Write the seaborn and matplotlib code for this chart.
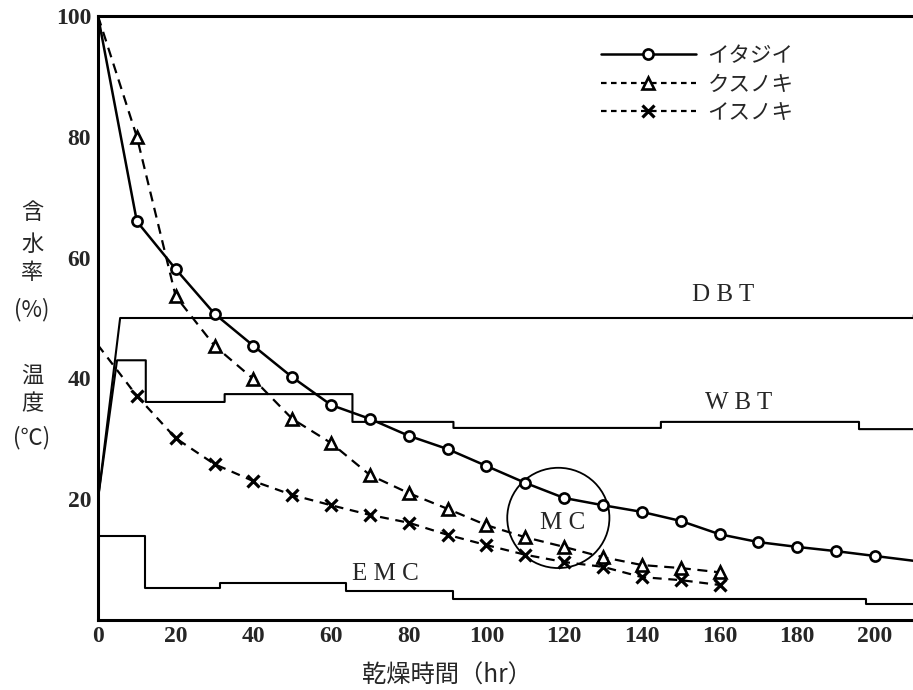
import numpy as np
import pandas as pd
import matplotlib
matplotlib.use("Agg")
import matplotlib.pyplot as plt
import seaborn as sns
from matplotlib.lines import Line2D
from matplotlib.patches import Ellipse

# ---------------- data ----------------
itajii_x = [0, 10, 20, 30, 40, 50, 60, 70, 80, 90, 100, 110, 120, 130, 140,
            150, 160, 170, 180, 190, 200, 210]
itajii_mc = [100, 66.0, 58.1, 50.7, 45.4, 40.2, 35.6, 33.3, 30.5, 28.3, 25.5,
             22.7, 20.2, 19.0, 17.9, 16.4, 14.2, 12.9, 12.1, 11.4, 10.6, 9.8]
kusu_x = [0, 10, 20, 30, 40, 50, 60, 70, 80, 90, 100, 110, 120, 130, 140, 150, 160]
kusu_mc = [100, 80.0, 53.6, 45.4, 39.9, 33.3, 29.3, 24.0, 21.0, 18.4, 15.7,
           13.7, 12.1, 10.4, 9.1, 8.6, 7.9]
isu_x = [0, 10, 20, 30, 40, 50, 60, 70, 80, 90, 100, 110, 120, 130, 140, 150, 160]
isu_mc = [45.5, 37.1, 30.1, 25.8, 23.0, 20.7, 19.0, 17.4, 16.1, 14.1, 12.4,
          10.8, 9.6, 8.8, 7.1, 6.6, 5.8]

# temperature / EMC schedules (start of ramp, then step change times and levels)
start_temp = 20.0
dbt_t = [5.7, 210]
dbt_v = [50.0, 50.5]
wbt_t = [4.9, 12.3, 32.6, 65.5, 91.5, 144.9, 195.9, 210]
wbt_v = [43.0, 36.1, 37.4, 32.8, 31.8, 32.8, 31.6, 31.6]
emc_t = [0, 12.0, 31.3, 63.8, 91.3, 197.6, 210]
emc_v = [13.9, 5.3, 6.2, 4.8, 3.4, 2.6, 2.6]

series_labels = ["イタジイ", "クスノキ", "イスノキ"]
x_ticks = [0, 20, 40, 60, 80, 100, 120, 140, 160, 180, 200]
y_ticks = [20, 40, 60, 80, 100]
y_minor = [10, 30, 50, 70]


def step_path(t, v, x0=None, y0=None):
    xs, ys = [], []
    if x0 is not None:
        xs.append(x0); ys.append(y0)
    for i in range(len(t)):
        if i > 0:
            xs.append(t[i]); ys.append(v[i - 1])
        xs.append(t[i]); ys.append(v[i])
    return pd.DataFrame({"x": xs, "y": ys})


sns.set_style("white")
plt.rcParams["font.family"] = ["Liberation Serif", "Noto Sans CJK JP", "DejaVu Sans"]
CJK = ["Noto Sans CJK JP", "DejaVu Sans"]
SERIF = ["Liberation Serif", "DejaVu Serif"]

fig = plt.figure(figsize=(9.13, 6.90), dpi=100)
ax = fig.add_axes([98 / 913, 70 / 690, 815 / 913, 604 / 690])

# schedules
dbt = step_path(dbt_t, dbt_v, 0, start_temp)
wbt = step_path(wbt_t, wbt_v, 0, start_temp)
emc = step_path(emc_t, emc_v)
for df in (dbt, wbt, emc):
    sns.lineplot(data=df, x="x", y="y", ax=ax, color="black", lw=1.5,
                 sort=False, estimator=None)

# moisture curves
d1 = pd.DataFrame({"x": itajii_x, "y": itajii_mc})
d2 = pd.DataFrame({"x": kusu_x, "y": kusu_mc})
d3 = pd.DataFrame({"x": isu_x, "y": isu_mc})
sns.lineplot(data=d1, x="x", y="y", ax=ax, color="black", lw=1.8,
             marker="o", ms=7.3, mew=1.9, mfc="white", mec="black",
             markevery=list(range(1, len(itajii_x) - 1)), estimator=None)
sns.lineplot(data=d2, x="x", y="y", ax=ax, color="black", lw=1.6,
             linestyle=(0, (4.5, 3)),
             marker="^", ms=9, mew=1.9, mfc="white", mec="black",
             markevery=list(range(1, len(kusu_x))), estimator=None)
sns.lineplot(data=d3, x="x", y="y", ax=ax, color="black", lw=1.6,
             linestyle=(0, (4, 3)),
             marker="x", ms=8.5, mew=2.3, mec="black",
             markevery=list(range(1, len(isu_x))), estimator=None)

# MC circle
ax.add_patch(Ellipse((118.5, 16.9), 26.3, 16.6, fill=False, ec="black", lw=1.3))
ax.text(119.5, 16.0, "M C", fontsize=18, family=SERIF, ha="center", va="center")
ax.text(161, 53.8, "D B T", fontsize=18, family=SERIF, ha="center", va="center")
ax.text(165, 35.9, "W B T", fontsize=18, family=SERIF, ha="center", va="center")
ax.text(74, 7.6, "E M C", fontsize=18, family=SERIF, ha="center", va="center")

ax.set_xlim(0, 209.8)
ax.set_ylim(0, 100)
ax.set_xticks(x_ticks)
ax.set_yticks(y_ticks)
ax.set_yticks(y_minor, minor=True)
ax.set_xticklabels([str(v) for v in x_ticks], family=SERIF, fontsize=17, weight="bold")
ax.set_yticklabels([str(v) for v in y_ticks], family=SERIF, fontsize=17, weight="bold")
ax.tick_params(axis="x", direction="in", length=5, width=1.5, pad=4)
ax.tick_params(axis="y", which="both", direction="in", length=6, width=1.5, pad=5)
ax.set_xlabel("")
ax.set_ylabel("")
for s in ("left", "bottom", "top"):
    ax.spines[s].set_linewidth(2.2)
    ax.spines[s].set_color("black")
ax.spines["right"].set_visible(False)

# legend
handles = [
    Line2D([], [], color="black", lw=1.8, marker="o", ms=7.3, mew=1.9, mfc="white"),
    Line2D([], [], color="black", lw=1.6, linestyle=(0, (2.5, 2)), marker="^",
           ms=9, mew=1.9, mfc="white"),
    Line2D([], [], color="black", lw=1.6, linestyle=(0, (2.5, 2)), marker="x",
           ms=8.5, mew=2.3),
]
leg = ax.legend(handles, series_labels, loc="upper left",
                bbox_to_anchor=(0.617, 0.952), frameon=False,
                handlelength=4.4, handletextpad=0.55, labelspacing=0.3,
                borderaxespad=0, borderpad=0, prop={"family": CJK, "size": 15.5})

# axis labels (vertical stacked y label)
ylab = [("含", 212), ("水", 244), ("率", 273), ("(%)", 310),
        ("温", 375), ("度", 404), ("(℃)", 438)]
for ch, py in ylab:
    fig.text(32 / 913, 1 - py / 690, ch, family=CJK, fontsize=16,
             ha="center", va="center")
fig.text(447 / 913, 1 - 676 / 690, "乾燥時間（hr）", family=CJK, fontsize=17.5,
         ha="center", va="center")

fig.savefig("out.png", dpi=100)
